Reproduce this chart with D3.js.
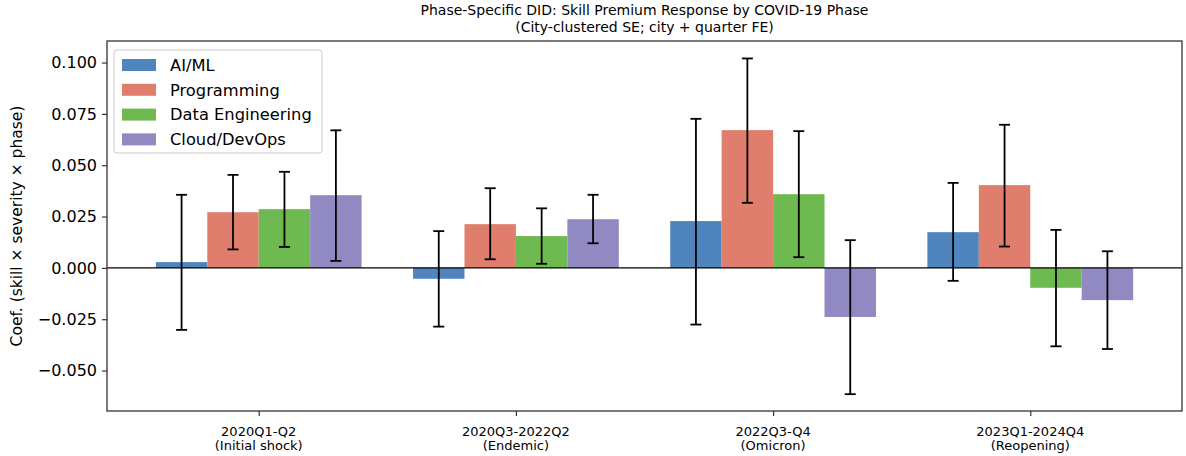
<!DOCTYPE html>
<html>
<head>
<meta charset="utf-8">
<script src="https://cdn.jsdelivr.net/npm/d3@7"></script>
<style>
  body { margin: 0; background: #fff; }
  svg text { font-family: "DejaVu Sans", sans-serif; }
</style>
</head>
<body>
<div id="chart"></div>
<script>
// phase categories (two-line tick labels)
var phases = ["2020Q1-Q2", "2020Q3-2022Q2", "2022Q3-Q4", "2023Q1-2024Q4"];
var phaseNotes = ["(Initial shock)", "(Endemic)", "(Omicron)", "(Reopening)"];

var skills = ["AI/ML", "Programming", "Data Engineering", "Cloud/DevOps"];
var colors = ["#4f84bd", "#e07e6e", "#6fba50", "#9189c1"];

// coefficient per skill, one value per phase
var coefAI    = [0.0028, -0.0053, 0.0228, 0.0174];
var coefProg  = [0.0271, 0.0213, 0.0671, 0.0403];
var coefData  = [0.0286, 0.0155, 0.0359, -0.0097];
var coefCloud = [0.0354, 0.0237, -0.0239, -0.0157];

// confidence interval bounds (low / high)
var lowAI    = [-0.0302, -0.0286, -0.0276, -0.0063];
var highAI   = [0.0356, 0.0179, 0.0726, 0.0414];
var lowProg  = [0.0090, 0.0042, 0.0317, 0.0104];
var highProg = [0.0453, 0.0388, 0.1020, 0.0697];
var lowData  = [0.0102, 0.0020, 0.0052, -0.0382];
var highData = [0.0468, 0.0290, 0.0666, 0.0185];
var lowCloud  = [0.0034, 0.0120, -0.0615, -0.0395];
var highCloud = [0.0670, 0.0356, 0.0135, 0.0081];

var yTicks = [-0.05, -0.025, 0, 0.025, 0.05, 0.075, 0.1];

var coefs = [coefAI, coefProg, coefData, coefCloud];
var lows = [lowAI, lowProg, lowData, lowCloud];
var highs = [highAI, highProg, highData, highCloud];

// flatten into rows
var rows = [];
skills.forEach(function(s, si) {
  phases.forEach(function(p, pi) {
    rows.push({skill: si, phase: pi, v: coefs[si][pi], lo: lows[si][pi], hi: highs[si][pi]});
  });
});

var svgWidth = 1186, svgHeight = 456;
var margin = {top: 41, right: 4, bottom: 45, left: 107};
var width = svgWidth - margin.left - margin.right;
var height = svgHeight - margin.top - margin.bottom;

var svg = d3.select("#chart").append("svg")
  .attr("width", svgWidth)
  .attr("height", svgHeight);

var g = svg.append("g")
  .attr("transform", `translate(${margin.left}, ${margin.top})`);

// x in category units, like matplotlib (bars at i + offset, width 0.2)
var barW = 0.2;
var x = d3.scaleLinear().domain([-0.59, 3.59]).range([0, width]);
var y = d3.scaleLinear().domain([-0.0697, 0.1105]).range([height, 0]);

function barLeft(d) { return d.phase + (d.skill - 2) * barW; }

// bars
g.selectAll("rect.bar")
  .data(rows)
  .enter()
  .append("rect")
  .attr("class", "bar")
  .attr("x", d => x(barLeft(d)))
  .attr("width", d => x(barLeft(d) + barW) - x(barLeft(d)))
  .attr("y", d => y(Math.max(0, d.v)))
  .attr("height", d => Math.abs(y(d.v) - y(0)))
  .attr("fill", d => colors[d.skill]);

// zero line
g.append("line")
  .attr("x1", 0).attr("x2", width)
  .attr("y1", y(0)).attr("y2", y(0))
  .attr("stroke", "#000").attr("stroke-width", 1.2);

// error bars
var err = g.append("g").attr("stroke", "#000").attr("stroke-width", 1.8);
rows.forEach(function(d) {
  var cx = x(barLeft(d) + barW / 2);
  err.append("line").attr("x1", cx).attr("x2", cx).attr("y1", y(d.lo)).attr("y2", y(d.hi));
  err.append("line").attr("x1", cx - 5.5).attr("x2", cx + 5.5).attr("y1", y(d.lo)).attr("y2", y(d.lo));
  err.append("line").attr("x1", cx - 5.5).attr("x2", cx + 5.5).attr("y1", y(d.hi)).attr("y2", y(d.hi));
});

// y axis
var leftAxis = d3.axisLeft(y).tickValues(yTicks).tickSize(5).tickPadding(5)
  .tickFormat(d => d3.format(".3f")(d).replace("-", "\u2212"));
var ya = g.append("g").call(leftAxis);
ya.select(".domain").remove();
ya.selectAll(".tick line").attr("stroke", "#333").attr("stroke-width", 1.2);
ya.selectAll(".tick text").attr("font-size", "16px").attr("fill", "#000");

// x axis
var bottomAxis = d3.axisBottom(x).tickValues([0, 1, 2, 3]).tickSize(5).tickFormat("");
var xa = g.append("g").attr("transform", `translate(0, ${height})`).call(bottomAxis);
xa.select(".domain").remove();
xa.selectAll(".tick line").attr("stroke", "#333").attr("stroke-width", 1.2);
phases.forEach(function(p, i) {
  var t = g.append("text")
    .attr("x", x(i)).attr("y", height + 16)
    .attr("text-anchor", "middle")
    .attr("font-size", "13px")
    .attr("fill", "#000");
  t.append("tspan").attr("x", x(i)).attr("dy", "0.71em").text(p);
  t.append("tspan").attr("x", x(i)).attr("dy", "1.05em").text(phaseNotes[i]);
});

// frame
g.append("rect")
  .attr("x", 0).attr("y", 0)
  .attr("width", width).attr("height", height)
  .attr("fill", "none")
  .attr("stroke", "#333").attr("stroke-width", 1.3);

// y label
svg.append("text")
  .attr("transform", `translate(22, ${margin.top + height / 2}) rotate(-90)`)
  .attr("text-anchor", "middle")
  .attr("font-size", "15.5px")
  .attr("fill", "#000")
  .text("Coef. (skill \u00d7 severity \u00d7 phase)");

// title
svg.append("text")
  .attr("x", margin.left + width / 2).attr("y", 15)
  .attr("text-anchor", "middle")
  .attr("font-size", "14px")
  .text("Phase-Specific DID: Skill Premium Response by COVID-19 Phase");
svg.append("text")
  .attr("x", margin.left + width / 2).attr("y", 32)
  .attr("text-anchor", "middle")
  .attr("font-size", "14px")
  .text("(City-clustered SE; city + quarter FE)");

// legend
var legend = svg.append("g").attr("transform", "translate(114, 50)");
legend.append("rect")
  .attr("width", 208).attr("height", 103)
  .attr("rx", 3)
  .attr("fill", "#fff").attr("fill-opacity", 0.8)
  .attr("stroke", "#ccc");
skills.forEach(function(s, i) {
  legend.append("rect")
    .attr("x", 8).attr("y", 9 + i * 24.8)
    .attr("width", 34).attr("height", 12)
    .attr("fill", colors[i]);
  legend.append("text")
    .attr("x", 56).attr("y", 15 + i * 24.8)
    .attr("dy", "0.35em")
    .attr("font-size", "16.3px")
    .text(s);
});
</script>
</body>
</html>
